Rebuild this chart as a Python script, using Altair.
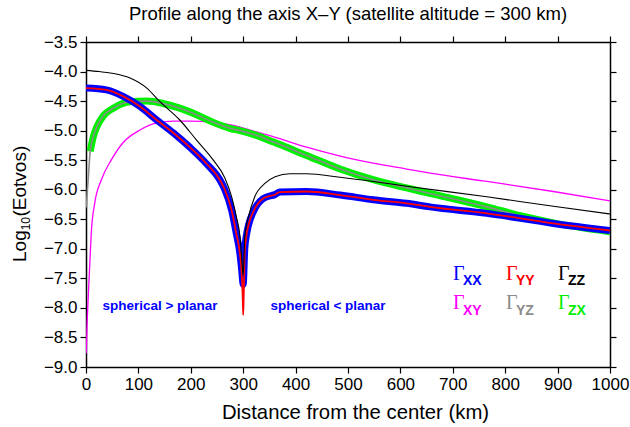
import altair as alt
import pandas as pd

# ---- data ----
zz_d = [0, 25, 50, 84, 116, 141, 179, 211, 243, 265, 278, 287, 294, 297, 300, 303, 310, 322, 342, 361, 389, 421, 485, 548, 612, 765, 892, 1000]
zz_v = [-3.98, -4.00, -4.03, -4.11, -4.28, -4.51, -4.82, -5.16, -5.50, -5.80, -6.12, -6.46, -6.80, -7.14, -7.45, -6.80, -6.46, -6.12, -5.89, -5.78, -5.73, -5.73, -5.79, -5.86, -5.94, -6.12, -6.28, -6.41]

xx_d = [0, 39, 71, 103, 135, 167, 198, 230, 256, 265, 278, 287, 294, 297, 300, 303, 306, 310, 320, 338, 361, 370, 421, 485, 548, 612, 656, 765, 892, 1000]
xx_v = [-4.28, -4.31, -4.42, -4.59, -4.82, -5.04, -5.28, -5.56, -5.84, -6.00, -6.35, -6.75, -7.10, -7.35, -7.60, -7.00, -6.78, -6.60, -6.36, -6.15, -6.08, -6.04, -6.03, -6.09, -6.17, -6.23, -6.29, -6.40, -6.57, -6.69]

yy_d = [0, 39, 71, 103, 135, 167, 198, 230, 256, 265, 278, 287, 294, 297, 299, 300, 301, 303, 306, 310, 320, 338, 361, 370, 421, 485, 548, 612, 656, 765, 892, 1000]
yy_v = [-4.28, -4.31, -4.42, -4.59, -4.82, -5.04, -5.28, -5.56, -5.84, -6.00, -6.35, -6.75, -7.10, -7.40, -7.80, -8.12, -7.80, -7.05, -6.78, -6.60, -6.36, -6.15, -6.08, -6.04, -6.03, -6.09, -6.17, -6.23, -6.29, -6.40, -6.57, -6.69]

zx_d = [8, 14, 20, 33, 52, 84, 116, 147, 179, 211, 243, 274, 294, 325, 357, 421, 485, 548, 612, 650, 765, 829, 892, 1000]
zx_v = [-5.35, -5.10, -4.95, -4.75, -4.62, -4.51, -4.50, -4.54, -4.62, -4.73, -4.86, -4.96, -5.00, -5.08, -5.19, -5.42, -5.65, -5.83, -5.97, -6.05, -6.29, -6.44, -6.56, -6.71]

yz_d = [1, 2, 4, 8, 14, 20, 33, 52, 84, 116, 147, 179, 211, 243, 274, 294, 325, 357, 421, 485, 548, 612, 650, 765, 829, 892, 1000]
yz_v = [-6.30, -6.10, -5.85, -5.35, -5.10, -4.95, -4.75, -4.62, -4.51, -4.50, -4.54, -4.62, -4.73, -4.86, -4.96, -5.00, -5.08, -5.19, -5.42, -5.65, -5.83, -5.97, -6.05, -6.29, -6.44, -6.56, -6.71]

xy_d = [0.5, 2, 4, 7, 10, 16.6, 29, 48, 71, 103, 135, 167, 198, 243, 274, 294, 325, 357, 421, 485, 548, 612, 657, 765, 892, 1000]
xy_v = [-8.77, -8.30, -7.87, -7.30, -6.74, -6.23, -5.84, -5.50, -5.20, -4.99, -4.87, -4.84, -4.84, -4.86, -4.90, -4.94, -5.02, -5.10, -5.28, -5.43, -5.55, -5.65, -5.72, -5.86, -6.03, -6.19]

x_ticks = [0, 100, 200, 300, 400, 500, 600, 700, 800, 900, 1000]
y_ticks = [-9.0, -8.5, -8.0, -7.5, -7.0, -6.5, -6.0, -5.5, -5.0, -4.5, -4.0, -3.5]

title_text = "Profile along the axis X\u2013Y (satellite altitude = 300 km)"
x_title = "Distance from the center (km)"

FONT = "Liberation Sans"
W, H = 524, 325

xscale = alt.Scale(domain=[0, 1000], nice=False, zero=False)
yscale = alt.Scale(domain=[-9, -3.5], nice=False, zero=False)


def df(d, v):
    return pd.DataFrame({"d": d, "v": v})


def line(d, v, color, width):
    return alt.Chart(df(d, v)).mark_line(
        color=color, strokeWidth=width, interpolate="monotone", clip=True
    ).encode(
        x=alt.X("d:Q", scale=xscale, axis=None),
        y=alt.Y("v:Q", scale=yscale, axis=None),
    )


common_axis = dict(
    domainColor="black", domainWidth=1.5, tickColor="black", tickWidth=1.2,
    tickSize=6, grid=False, labelFont=FONT, titleFont=FONT,
    labelColor="black", titleColor="black", labelFontSize=17,
)

axes_layer = alt.Chart(df(zz_d, zz_v)).mark_line(strokeOpacity=0).encode(
    x=alt.X("d:Q", scale=xscale, axis=alt.Axis(
        orient="bottom", values=x_ticks, format="d", title=x_title,
        titleFontSize=20.3, titleFontWeight="normal", titlePadding=10,
        titleX=269, labelPadding=3, labelFlush=False, **common_axis)),
    y=alt.Y("v:Q", scale=yscale, axis=alt.Axis(
        orient="left", values=y_ticks, format=".1f", title=None,
        labelPadding=3, **common_axis)),
)

frame_layer = alt.Chart(df(zz_d, zz_v)).mark_line(strokeOpacity=0).encode(
    x=alt.X("d:Q", scale=xscale, axis=alt.Axis(
        orient="top", values=x_ticks, labels=False, title=None, **common_axis)),
    y=alt.Y("v:Q", scale=yscale, axis=alt.Axis(
        orient="right", values=y_ticks, labels=False, title=None, **common_axis)),
)

layers = [
    axes_layer,
    frame_layer,
    line(xy_d, xy_v, "#ff00ff", 1.3),
    line(zx_d, zx_v, "#00ee00", 7),
    line(yz_d, yz_v, "#8c8c8c", 1.6),
    line(xx_d, xx_v, "#0000ff", 7),
    line(yy_d, yy_v, "#ff0000", 1.8),
    line(zz_d, zz_v, "#000000", 1.1),
]


def txt(s, x, y, color, size, font=FONT, weight="normal", align="left", angle=0, baseline="alphabetic"):
    kw = dict(text=s, color=color, fontSize=size, font=font, fontWeight=weight,
              align=align, baseline=baseline)
    if angle:
        kw["angle"] = angle
    return alt.Chart(pd.DataFrame({"a": [0]})).mark_text(**kw).encode(
        x=alt.value(x), y=alt.value(y))


legend_cols = [(367, "XX", "#0000ff", "XY", "#ff00ff"),
               (420, "YY", "#ff0000", "YZ", "#8c8c8c"),
               (472, "ZZ", "#000000", "ZX", "#00ee00")]
for cx, s1, c1, s2, c2 in legend_cols:
    layers.append(txt("\u0393", cx, 238, c1, 20, font="Liberation Serif"))
    layers.append(txt(s1, cx + 10, 243, c1, 14, weight="bold"))
    layers.append(txt("\u0393", cx, 267, c2, 20, font="Liberation Serif"))
    layers.append(txt(s2, cx + 10, 273, c2, 14, weight="bold"))

layers.append(txt("spherical > planar", 74, 268, "#0000ff", 13.5, weight="bold", align="center"))
layers.append(txt("spherical < planar", 242, 268, "#0000ff", 13.5, weight="bold", align="center"))

# y axis title: Log10(Eotvos) with subscript
layers.append(txt("Log", -60, 220, "black", 19, angle=270))
layers.append(txt("10", -56, 188.3, "black", 12, angle=270))
layers.append(txt("(Eotvos)", -60, 174.5, "black", 19, angle=270))

chart = alt.layer(*layers).properties(
    width=W, height=H,
    title=alt.TitleParams(title_text, font=FONT, fontSize=18.5, fontWeight="normal",
                          color="black", anchor="middle", offset=10),
    autosize=alt.AutoSizeParams(type="none"),
    padding={"left": 86, "top": 42, "right": 20, "bottom": 60},
).configure_view(stroke=None)

chart.save("out.html", embed_options={"renderer": "svg", "actions": False})
